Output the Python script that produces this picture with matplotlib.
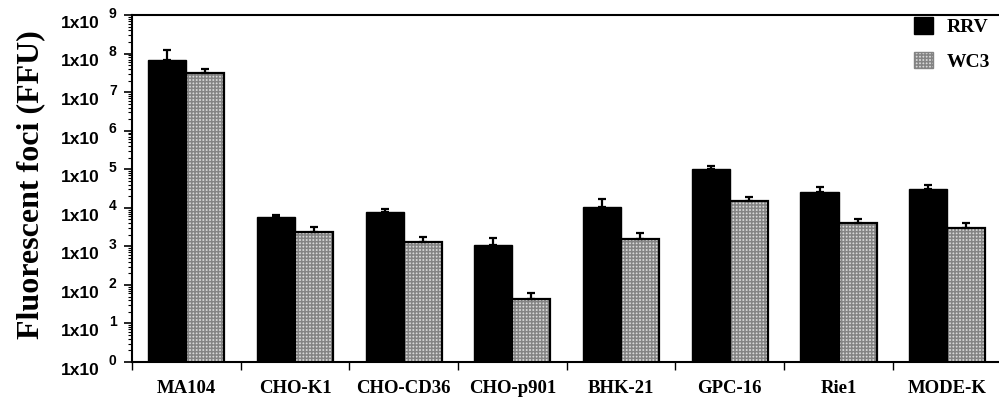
import numpy as np
import matplotlib
matplotlib.use("Agg")
import matplotlib.pyplot as plt
from matplotlib.ticker import LogLocator, FixedLocator, NullFormatter

# values (FFU)
cells = ["MA104", "CHO-K1", "CHO-CD36", "CHO-p901", "BHK-21", "GPC-16", "Rie1", "MODE-K"]
rrv = [6.8e7, 5.9e3, 7.8e3, 1.08e3, 1.03e4, 1.03e5, 2.6e4, 3.1e4]
rrv_top = [1.24e8, 6.6e3, 9.1e3, 1.6e3, 1.7e4, 1.23e5, 3.5e4, 4.0e4]
wc3 = [3.2e7, 2.4e3, 1.27e3, 43, 1.55e3, 1.5e4, 4.0e3, 3.0e3]
wc3_top = [4.0e7, 3.2e3, 1.8e3, 63, 2.2e3, 1.9e4, 5.1e3, 4.1e3]
exponents = list(range(0, 10))

plt.rcParams['hatch.linewidth'] = 1.1

fig = plt.figure(figsize=(9.99, 3.98), dpi=100)
ax = fig.add_axes([0.132, 0.0905, 0.868, 0.8715])

x = np.arange(len(cells)) + 0.5
w = 0.35

ax.bar(x - w / 2, rrv, w, color='black', edgecolor='black', linewidth=1)
# stippled WC3 bars: hatch layer, then black outline
ax.bar(x + w / 2, wc3, w, color='#d9d9d9', edgecolor='#848484', hatch='+++++', linewidth=0)
ax.bar(x + w / 2, wc3, w, color='none', edgecolor='black', linewidth=1.6)

up_r = np.array(rrv_top) - np.array(rrv)
up_w = np.array(wc3_top) - np.array(wc3)
ax.errorbar(x - w / 2, rrv, yerr=[np.zeros(len(rrv)), up_r], fmt='none',
            ecolor='black', elinewidth=1.6, capsize=3, capthick=1.6)
ax.errorbar(x + w / 2, wc3, yerr=[np.zeros(len(wc3)), up_w], fmt='none',
            ecolor='black', elinewidth=1.6, capsize=3, capthick=1.6)

ax.set_yscale('log')
ax.set_ylim(1, 1e9)
ax.set_xlim(0, 7.976)

ax.yaxis.set_major_locator(FixedLocator([10.0 ** e for e in exponents]))
ax.yaxis.set_major_formatter(NullFormatter())
ax.yaxis.set_minor_locator(LogLocator(base=10, subs=np.arange(2, 10), numticks=20))
ax.yaxis.set_minor_formatter(NullFormatter())
ax.tick_params(axis='y', which='major', direction='out', length=6, width=1.2)
ax.tick_params(axis='y', which='minor', direction='out', length=3, width=0.8)

# "1x10" with a raised exponent, as in the original
for e in exponents:
    ax.annotate('1x10', xy=(0, 10.0 ** e), xycoords=('axes fraction', 'data'),
                xytext=(-23, -6), textcoords='offset points', ha='right', va='center',
                fontsize=12.5, fontweight='bold', family='Liberation Sans')
    ax.annotate(str(e), xy=(0, 10.0 ** e), xycoords=('axes fraction', 'data'),
                xytext=(-16.5, 1), textcoords='offset points', ha='left', va='center',
                fontsize=10, fontweight='bold', family='Liberation Sans')

ax.set_xticks(np.arange(0, 8))
ax.set_xticklabels([])
ax.set_xticks(x, minor=True)
ax.set_xticklabels(cells, minor=True, fontsize=13.5, fontweight='bold',
                   family='Liberation Serif')
ax.tick_params(axis='x', which='major', direction='out', length=6, width=1)
ax.tick_params(axis='x', which='minor', length=0, pad=13)

for s in ['left', 'bottom', 'top']:
    ax.spines[s].set_linewidth(1.5)
ax.spines['right'].set_visible(False)

ax.set_ylabel('Fluorescent foci (FFU)', fontsize=23, fontweight='bold',
              family='Liberation Serif')
ax.yaxis.set_label_coords(-0.100, 0.51)

# legend
h1 = plt.Rectangle((0, 0), 1, 1, facecolor='black', edgecolor='black')
h2 = plt.Rectangle((0, 0), 1, 1, facecolor='#d9d9d9', edgecolor='#848484', hatch='+++++')
ax.legend([h1, h2], ['RRV', 'WC3'], loc='upper right', frameon=False,
          prop={'family': 'Liberation Serif', 'weight': 'bold', 'size': 14},
          handlelength=0.95, handleheight=0.95, handletextpad=0.7,
          labelspacing=0.8, borderaxespad=0, bbox_to_anchor=(0.9985, 1.017))

fig.savefig('out.png', dpi=100)
